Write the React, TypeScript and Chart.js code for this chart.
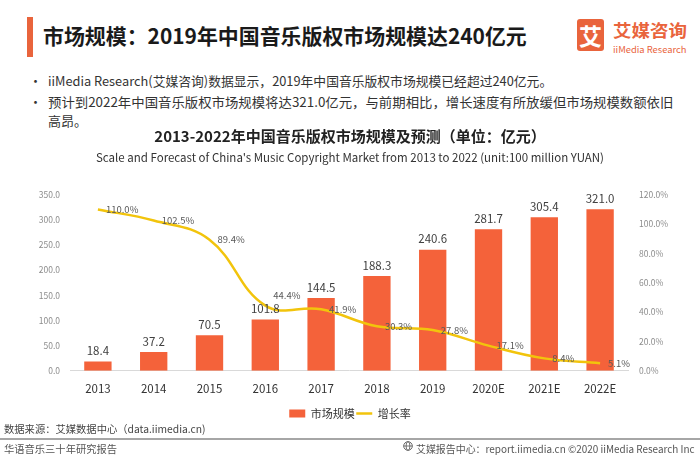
import React, { useEffect, useLayoutEffect, useRef } from 'react';
import { Chart, registerables } from 'chart.js';

Chart.register(...registerables);

const FONT = '"Noto Sans CJK SC", "Noto Sans", sans-serif';

// ---- data ----
const years = ['2013', '2014', '2015', '2016', '2017', '2018', '2019', '2020E', '2021E', '2022E'];
const marketSize = [18.4, 37.2, 70.5, 101.8, 144.5, 188.3, 240.6, 281.7, 305.4, 321.0];
const growthRate = [110.0, 102.5, 89.4, 44.4, 41.9, 30.3, 27.8, 17.1, 8.4, 5.1];
const sizeAxisMax = 350;
const sizeAxisStep = 50;
const rateAxisMax = 120;
const rateAxisStep = 20;
const seriesNames = ['市场规模', '增长率'];
const chartTitle = '2013-2022年中国音乐版权市场规模及预测（单位：亿元）';
const chartSubtitle = "Scale and Forecast of China's Music Copyright Market from 2013 to 2022 (unit:100 million YUAN)";

const BAR_COLOR = '#F4623A';
const LINE_COLOR = '#F2C40C';
const ACCENT = '#E9643C';

type FitProps = {
  text: string;
  left: number;
  cy: number;
  width?: number;
  size: number;
  color?: string;
  weight?: number | string;
};

function FitText({ text, left, cy, width, size, color = '#333', weight = 400 }: FitProps) {
  const ref = useRef<HTMLSpanElement>(null);
  useLayoutEffect(() => {
    const fit = () => {
      const el = ref.current;
      if (!el || !width) return;
      el.style.transform = 'none';
      const w = el.offsetWidth;
      if (w > 0) el.style.transform = `scaleX(${width / w})`;
    };
    fit();
    if ((document as any).fonts && (document as any).fonts.ready) {
      (document as any).fonts.ready.then(fit);
    }
  }, [text, width, size]);
  const h = Math.round(size * 1.5);
  return (
    <div style={{ position: 'absolute', left, top: cy - h / 2, height: h, lineHeight: h + 'px', whiteSpace: 'nowrap' }}>
      <span
        ref={ref}
        style={{
          display: 'inline-block',
          transformOrigin: 'left center',
          fontSize: size,
          color,
          fontWeight: weight as any,
          fontFamily: FONT,
        }}
      >
        {text}
      </span>
    </div>
  );
}

const valueLabels = {
  id: 'valueLabels',
  afterDatasetsDraw(chart: any) {
    const ctx = chart.ctx;
    ctx.save();
    const barMeta = chart.getDatasetMeta(0);
    ctx.font = `11.5px ${FONT}`;
    ctx.fillStyle = '#404040';
    ctx.textAlign = 'center';
    ctx.textBaseline = 'bottom';
    barMeta.data.forEach((el: any, i: number) => {
      ctx.fillText(marketSize[i].toFixed(1), el.x, el.y - 5);
    });
    const lineMeta = chart.getDatasetMeta(1);
    ctx.font = `9.5px ${FONT}`;
    ctx.fillStyle = '#595959';
    ctx.textAlign = 'left';
    ctx.textBaseline = 'middle';
    lineMeta.data.forEach((el: any, i: number) => {
      const lift = i === 3 ? -10 : 0;
      ctx.fillText(growthRate[i].toFixed(1) + '%', el.x + 8, el.y + lift);
    });
    ctx.restore();
  },
};

function Globe({ left, top }: { left: number; top: number }) {
  return (
    <svg style={{ position: 'absolute', left, top }} width="10" height="10" viewBox="0 0 10 10">
      <circle cx="5" cy="5" r="4.3" fill="none" stroke="#555" strokeWidth="0.9" />
      <ellipse cx="5" cy="5" rx="1.9" ry="4.3" fill="none" stroke="#555" strokeWidth="0.8" />
      <line x1="0.7" y1="5" x2="9.3" y2="5" stroke="#555" strokeWidth="0.8" />
    </svg>
  );
}

export default function App() {
  const canvasRef = useRef<HTMLCanvasElement>(null);

  useEffect(() => {
    if (!canvasRef.current) return;
    const chart = new Chart(canvasRef.current, {
      type: 'bar',
      data: {
        labels: years,
        datasets: [
          {
            type: 'bar',
            label: seriesNames[0],
            data: marketSize,
            backgroundColor: BAR_COLOR,
            yAxisID: 'y',
            order: 1,
            categoryPercentage: 1,
            barPercentage: 0.49,
          } as any,
          {
            type: 'line',
            label: seriesNames[1],
            data: growthRate,
            borderColor: LINE_COLOR,
            backgroundColor: LINE_COLOR,
            borderWidth: 2.5,
            tension: 0.4,
            pointRadius: 0,
            yAxisID: 'y1',
            order: 0,
          } as any,
        ],
      },
      options: {
        animation: false,
        responsive: true,
        maintainAspectRatio: false,
        layout: { padding: { top: 0, left: 0, right: 0, bottom: 3 } },
        plugins: {
          title: {
            display: true,
            text: chartTitle,
            color: '#222',
            font: { family: FONT, size: 15, weight: 'bold' },
            padding: { top: 7, bottom: 6 },
          },
          subtitle: {
            display: true,
            text: chartSubtitle,
            color: '#333',
            font: { family: FONT, size: 11.5 },
            padding: { top: 0, bottom: 30 },
          },
          legend: {
            position: 'bottom',
            labels: {
              usePointStyle: true,
              pointStyleWidth: 16,
              boxHeight: 8,
              padding: 1.5,
              color: '#333',
              font: { family: FONT, size: 11 },
              sort: (a: any, b: any) => a.datasetIndex - b.datasetIndex,
              generateLabels(chart: any) {
                const items = (Chart.defaults.plugins.legend.labels as any).generateLabels(chart);
                return items.map((it: any) => {
                  const isBar = it.datasetIndex === 0;
                  return {
                    ...it,
                    pointStyle: isBar ? 'rect' : 'line',
                    lineWidth: isBar ? 0 : 2.5,
                    strokeStyle: isBar ? BAR_COLOR : LINE_COLOR,
                    fillStyle: isBar ? BAR_COLOR : LINE_COLOR,
                  };
                });
              },
            },
          },
          tooltip: { enabled: false },
        },
        scales: {
          x: {
            grid: { display: false, drawTicks: false },
            border: { display: true, color: '#d9d9d9' },
            ticks: { color: '#333', font: { family: FONT, size: 11.5 }, padding: 11 },
          },
          y: {
            position: 'left',
            min: 0,
            max: sizeAxisMax,
            grid: { display: false, drawTicks: false },
            border: { display: false },
            ticks: {
              stepSize: sizeAxisStep,
              color: '#8c8c8c',
              font: { family: FONT, size: 8.5 },
              padding: 10,
              callback: (v: any) => Number(v).toFixed(1),
            },
            afterFit(s: any) {
              s.width = 70;
            },
          },
          y1: {
            position: 'right',
            min: 0,
            max: rateAxisMax,
            grid: { display: false, drawTicks: false },
            border: { display: false },
            ticks: {
              stepSize: rateAxisStep,
              color: '#8c8c8c',
              font: { family: FONT, size: 8.5 },
              padding: 11,
              callback: (v: any) => Number(v).toFixed(1) + '%',
            },
            afterFit(s: any) {
              s.width = 72;
            },
          },
        },
      } as any,
      plugins: [valueLabels],
    });
    return () => chart.destroy();
  }, []);

  return (
    <div
      style={{
        position: 'absolute',
        left: 0,
        top: 0,
        width: 700,
        height: 455,
        background: '#fff',
        overflow: 'hidden',
        fontFamily: FONT,
      }}
    >
      {/* header */}
      <div style={{ position: 'absolute', left: 27, top: 17, width: 6, height: 40, background: ACCENT }} />
      <FitText text="市场规模：2019年中国音乐版权市场规模达240亿元" left={43} cy={35} width={484} size={21} color="#1a1a1a" weight={700} />

      {/* logo */}
      <div
        style={{
          position: 'absolute',
          left: 577,
          top: 19,
          width: 27,
          height: 32,
          borderRadius: 3,
          background: ACCENT,
          color: '#fff',
          fontFamily: FONT,
          fontWeight: 700,
          fontSize: 23,
          lineHeight: '32px',
          textAlign: 'center',
        }}
      >
        艾
      </div>
      <FitText text="艾媒咨询" left={613} cy={30} width={74} size={17} color={ACCENT} weight={700} />
      <FitText text="iiMedia Research" left={613} cy={46} width={74} size={9} color={ACCENT} />

      {/* bullets */}
      <FitText text="•" left={29} cy={79} size={13} color="#333" />
      <FitText
        text="iiMedia Research(艾媒咨询)数据显示，2019年中国音乐版权市场规模已经超过240亿元。"
        left={48}
        cy={79}
        width={504}
        size={13}
        color="#333"
      />
      <FitText text="•" left={29} cy={100} size={13} color="#333" />
      <FitText
        text="预计到2022年中国音乐版权市场规模将达321.0亿元，与前期相比，增长速度有所放缓但市场规模数额依旧"
        left={48}
        cy={100}
        width={625}
        size={13}
        color="#333"
      />
      <FitText text="高昂。" left={48} cy={119} size={13} color="#333" />

      {/* chart */}
      <div style={{ position: 'absolute', left: 0, top: 120, width: 700, height: 312 }}>
        <canvas ref={canvasRef} />
      </div>

      {/* footer */}
      <FitText text="数据来源：艾媒数据中心（data.iimedia.cn)" left={4} cy={426} width={202} size={10.5} color="#444" />
      <div style={{ position: 'absolute', left: 0, top: 438, width: 700, height: 2, background: '#a6a6a6' }} />
      <FitText text="华语音乐三十年研究报告" left={4} cy={446} width={113} size={10} color="#555" />
      <Globe left={403} top={441} />
      <FitText
        text="艾媒报告中心：report.iimedia.cn  ©2020  iiMedia Research Inc"
        left={416}
        cy={446}
        width={279}
        size={10}
        color="#555"
      />
    </div>
  );
}
